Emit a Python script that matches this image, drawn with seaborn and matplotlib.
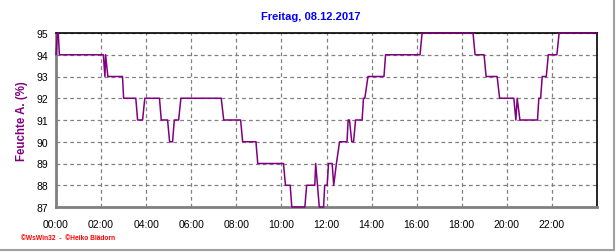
import matplotlib
matplotlib.use("Agg")
import matplotlib.pyplot as plt
from matplotlib.lines import Line2D
from matplotlib.ticker import MultipleLocator
import seaborn as sns
import pandas as pd

sns.set_style("white")
plt.rcParams['font.family'] = ['Liberation Sans', 'DejaVu Sans']

# Data: time of day in hours, relative humidity (%)
hours = [0, 0.06, 0.1, 0.15,
         2.1, 2.17, 2.2, 2.3,
         2.95, 3.0, 3.54, 3.62, 3.84, 3.94,
         4.59, 4.67, 4.95, 5.04, 5.17, 5.25, 5.44, 5.54,
         7.33, 7.44, 8.19, 8.28, 8.87, 8.95,
         10.09, 10.18, 10.39, 10.46, 11.04, 11.12,
         11.48, 11.52, 11.6, 11.68, 11.87, 11.92,
         12.03, 12.09, 12.25, 12.32, 12.44, 12.58,
         12.91, 12.96, 13.02, 13.12, 13.2, 13.29,
         13.58, 13.64, 13.7, 13.84, 14.55, 14.62,
         16.15, 16.24, 18.5, 18.59, 18.99, 19.08,
         19.57, 19.68, 20.31, 20.4, 20.46, 20.58,
         21.36, 21.42, 21.5, 21.57, 21.75, 21.84,
         22.22, 22.32, 24]
humidity = [94, 95, 95, 94,
            94, 93, 94, 93,
            93, 92, 92, 91, 91, 92,
            92, 91, 91, 90, 90, 91, 91, 92,
            92, 91, 91, 90, 90, 89,
            89, 88, 88, 87, 87, 88,
            88, 89, 88, 87, 87, 88,
            88, 89, 89, 88, 89, 90,
            90, 91, 91, 90, 90, 91,
            91, 92, 92, 93, 93, 94,
            94, 95, 95, 94, 94, 93,
            93, 92, 92, 91, 92, 91,
            91, 92, 92, 93, 93, 94,
            94, 95, 95]

x_tick_hours = list(range(0, 24, 2))
x_tick_labels = ["00:00", "02:00", "04:00", "06:00", "08:00", "10:00",
                 "12:00", "14:00", "16:00", "18:00", "20:00", "22:00"]
y_ticks = [87, 88, 89, 90, 91, 92, 93, 94, 95]

title = "Freitag, 08.12.2017"
ylabel = "Feuchte A. (%)"
footer = "\u00a9WsWin32  -  \u00a9Heiko Blädorn"

df = pd.DataFrame({"h": hours, "v": humidity})

W, H = 616, 253
fig = plt.figure(figsize=(W / 100, H / 100), dpi=100)
fig.patch.set_facecolor("white")

left, right, top, bottom = 56, 597, 34, 208
ax = fig.add_axes([left / W, 1 - bottom / H, (right - left) / W, (bottom - top) / H])

sns.lineplot(data=df, x="h", y="v", ax=ax, color="#800080", linewidth=1.1,
             sort=False, estimator=None, zorder=3, clip_on=False)

ax.set_xlim(0, 24)
ax.set_ylim(87, 95)
ax.set_xticks(x_tick_hours)
ax.set_xticklabels(x_tick_labels)
ax.xaxis.set_minor_locator(MultipleLocator(0.5))
ax.set_yticks(y_ticks)
ax.set_yticklabels([str(t) for t in y_ticks])

ax.grid(True, which="major", color="#808080", linestyle=(0, (3, 2.5)), linewidth=0.9)
ax.set_axisbelow(True)

ax.set_xlabel("")
ax.set_ylabel(ylabel, color="#800080", fontsize=8.3, fontweight="bold", labelpad=6)

ax.tick_params(axis="x", which="major", length=4, width=1, color="#808080",
               labelsize=7.5, pad=4.5, labelcolor="black", direction="out")
ax.tick_params(axis="x", which="minor", length=2.5, width=1, color="#808080",
               direction="out")
ax.tick_params(axis="y", which="major", length=3, width=1, color="#808080",
               labelsize=7.5, pad=2.5, labelcolor="black", direction="out")

for s in ["left", "bottom"]:
    ax.spines[s].set_color("#808080")
    ax.spines[s].set_linewidth(2.0)
    ax.spines[s].set_zorder(2)
for s in ["top", "right"]:
    ax.spines[s].set_color("black")
    ax.spines[s].set_linewidth(1.2)
    ax.spines[s].set_zorder(2)

fig.text(311 / W, 1 - 17 / H, title, color="#0000ff", fontsize=8,
         fontweight="bold", ha="center", va="center")
fig.text(21 / W, 1 - 239 / H, footer, color="#ff0000", fontsize=4.8,
         fontweight="bold", ha="left", va="center")

# figure frame (right and bottom gray border)
fig.add_artist(Line2D([613.5 / W, 613.5 / W], [1 - 251 / H, 1.0],
                      transform=fig.transFigure, color="#a0a0a0", linewidth=1.5))
fig.add_artist(Line2D([0, 613.5 / W], [1 - 251 / H, 1 - 251 / H],
                      transform=fig.transFigure, color="#a0a0a0", linewidth=1.5))

fig.savefig("out.png", dpi=100, facecolor="white")
